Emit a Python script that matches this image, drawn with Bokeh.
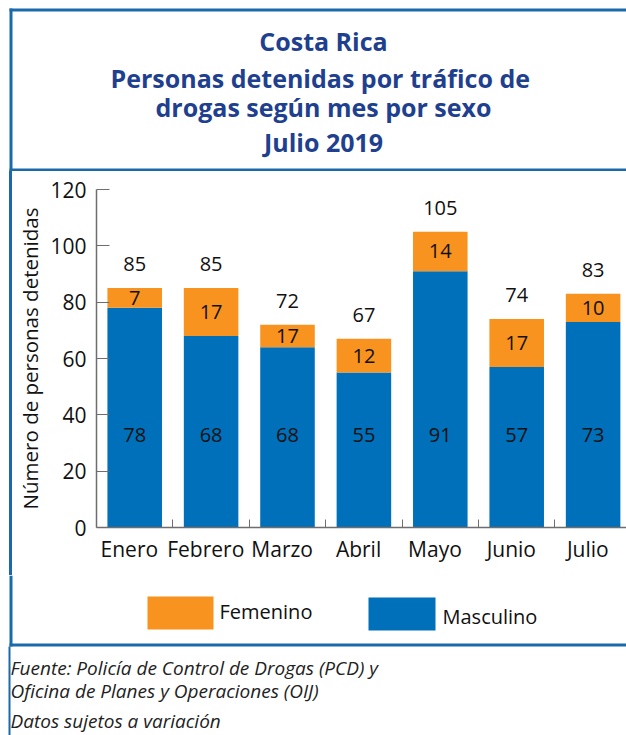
from bokeh.plotting import figure
from bokeh.layouts import column, row
from bokeh.models import Range1d, FixedTicker, ColumnDataSource, LabelSet, Spacer
from bokeh.core.properties import value
from bokeh.embed import file_html
from bokeh.resources import INLINE

# ---------------- data ----------------
months = ["Enero", "Febrero", "Marzo", "Abril", "Mayo", "Junio", "Julio"]
masculino = [78, 68, 64, 55, 91, 57, 73]          # bar heights as drawn
femenino = [7, 17, 8, 12, 14, 17, 10]
masc_labels = ["78", "68", "68", "55", "91", "57", "73"]   # printed labels
fem_labels = ["7", "17", "17", "12", "14", "17", "10"]
total_labels = ["85", "85", "72", "67", "105", "74", "83"]
y_ticks = [0, 20, 40, 60, 80, 100, 120]
series_names = ["Femenino", "Masculino"]

title_lines = ["Costa Rica",
               "Personas detenidas  por tráfico de",
               "drogas según mes por sexo",
               "Julio 2019"]
footer_lines = ["Fuente: Policía de Control de Drogas (PCD) y",
                "Oficina de Planes y Operaciones (OIJ)",
                "Datos sujetos a variación"]
y_label = "Número de personas detenidas"

# ---------------- style ----------------
BLUE = "#0070BA"
ORANGE = "#F7931E"
TITLE_C = "#1F3F8F"
BORDER_C = "#1A6AAB"
AXIS_C = "#6E6E6E"
TXT_C = "#111111"
FONT = "Open Sans"

W = 626
T_H = 171          # title block  (page y 0..171)
M_H = 404          # chart block  (page y 171..575)
F_H = 735 - T_H - M_H  # legend + footer block
L_W = 12


def deco_fig(w, h, y0):
    f = figure(width=w, height=h, x_range=Range1d(0, w),
               y_range=Range1d(y0 + h, y0), output_backend="svg",
               toolbar_location=None, min_border=0,
               x_axis_location=None, y_axis_location=None)
    f.outline_line_color = None
    f.xgrid.visible = False
    f.ygrid.visible = False
    return f


# ---------------- title block ----------------
t = deco_fig(W, T_H, 0)
t.quad(left=[9, 9, 9], right=[W + 5, 12, W + 5], top=[8, 8, 168],
       bottom=[11, T_H, 171], fill_color=BORDER_C, line_color=None)
t.text(x=[323] * 4, y=[40, 77, 106, 141], text=title_lines,
       text_font=value(FONT), text_font_style="bold", text_font_size="25px",
       text_color=TITLE_C, text_align="center", text_baseline="middle")

# ---------------- left border strip ----------------
gap = Spacer(width=9, height=M_H)
strip = Spacer(width=L_W - 9, height=M_H, styles={"background-color": BORDER_C})

# ---------------- chart ----------------
xc = [i + 0.5 for i in range(len(months))]
label_x = [x - 0.07 for x in xc]
totals = [m + f for m, f in zip(masculino, femenino)]
src = ColumnDataSource(dict(
    x=xc, masc=masculino, total=totals,
    fem_y=[m + f / 2 for m, f in zip(masculino, femenino)],
    masc_y=[33] * len(months),
    ml=masc_labels, fl=fem_labels, tl=total_labels))

frame_left = 96 - L_W
frame_top = 189 - T_H
frame_bottom = T_H + M_H - 527
p = figure(width=W - L_W, height=M_H,
           x_range=Range1d(0, (W - 96) / 76.4), y_range=Range1d(0, 120),
           output_backend="svg", toolbar_location=None,
           min_border_left=frame_left, min_border_right=0,
           min_border_top=frame_top, min_border_bottom=frame_bottom)
p.outline_line_color = None
p.xgrid.visible = False
p.ygrid.visible = False

p.vbar(x="x", width=0.714, bottom=0, top="masc", source=src,
       fill_color=BLUE, line_color=None)
p.vbar(x="x", width=0.714, bottom="masc", top="total", source=src,
       fill_color=ORANGE, line_color=None)

xa = p.xaxis[0]
xa.ticker = FixedTicker(ticks=label_x, minor_ticks=list(range(1, len(months) + 1)))
xa.major_label_overrides = {x: m for x, m in zip(label_x, months)}
xa.major_tick_line_color = None
xa.minor_tick_in = 8
xa.minor_tick_out = 0
xa.minor_tick_line_color = AXIS_C
xa.axis_line_color = AXIS_C
xa.axis_line_width = 1.5
xa.major_label_text_font = FONT
xa.major_label_text_font_size = "21px"
xa.major_label_text_color = TXT_C
xa.major_label_standoff = 1

ya = p.yaxis[0]
ya.ticker = FixedTicker(ticks=y_ticks)
ya.minor_tick_line_color = None
ya.major_tick_in = 13
ya.major_tick_out = 0
ya.major_tick_line_color = AXIS_C
ya.axis_line_color = AXIS_C
ya.axis_line_width = 1.5
ya.major_label_text_font = FONT
ya.major_label_text_font_size = "21px"
ya.major_label_text_color = TXT_C
ya.major_label_standoff = 10
ya.axis_label = y_label
ya.axis_label_text_font = FONT
ya.axis_label_text_font_style = "normal"
ya.axis_label_text_font_size = "20.5px"
ya.axis_label_text_color = TXT_C
ya.axis_label_standoff = 3

common = dict(source=src, text_font=value(FONT), text_font_size="20px",
              text_color=TXT_C, text_align="center", text_baseline="middle")
p.add_layout(LabelSet(x="x", y="total", text="tl", y_offset=24, **common))
p.add_layout(LabelSet(x="x", y="fem_y", text="fl", **common))
p.add_layout(LabelSet(x="x", y="masc_y", text="ml", **common))

# ---------------- legend + footer block ----------------
y0 = T_H + M_H
f = deco_fig(W, F_H, y0)
f.quad(left=[9, 9, 8], right=[12, W + 5, 10], top=[y0, 643, 646],
       bottom=[646, 646, 740], fill_color=BORDER_C, line_color=None)
# legend swatches
f.quad(left=[147, 368], right=[213, 435], top=[596, 597], bottom=[629, 630],
       fill_color=[ORANGE, BLUE], line_color=None)
f.text(x=[219, 442], y=[611, 616], text=series_names, text_font=value(FONT),
       text_font_size="20px", text_color=TXT_C, text_align="left",
       text_baseline="middle")
f.text(x=[10] * 3, y=[667, 690, 720], text=footer_lines, text_font=value(FONT),
       text_font_style="italic", text_font_size="19px", text_color="#222222",
       text_align="left", text_baseline="middle")

layout = column(t, row(gap, strip, p), f)
open("out.html", "w").write(file_html(layout, INLINE))
